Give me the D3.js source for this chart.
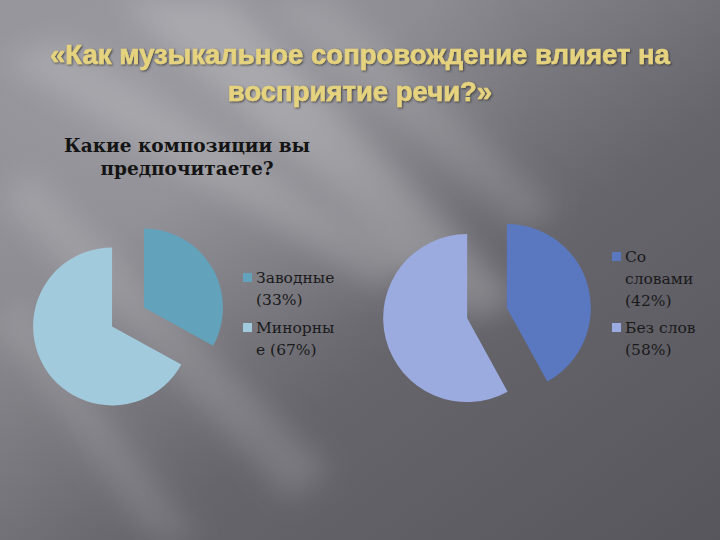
<!DOCTYPE html>
<html><head><meta charset="utf-8">
<script src="https://cdn.jsdelivr.net/npm/d3@7"></script>
<style>html,body{margin:0;padding:0;background:#5a5960;}svg{display:block;}</style>
</head><body>
<svg id="c" width="720" height="540"></svg>
<script>
const titleLines = ["«Как музыкальное сопровождение влияет на", "восприятие речи?»"];
const subtitleLines = ["Какие композиции вы", "предпочитаете?"];

const pie1Categories = ["Заводные (33%)", "Минорные (67%)"];
const pie1Values = [33, 67];
const pie1LegendLines = [["Заводные", "(33%)"], ["Минорны", "е (67%)"]];
const pie1Colors = ["#62a2ba", "#a2cadd"];

const pie2Categories = ["Со словами (42%)", "Без слов (58%)"];
const pie2Values = [42, 58];
const pie2LegendLines = [["Со", "словами", "(42%)"], ["Без слов", "(58%)"]];
const pie2Colors = ["#5a78bf", "#9babdf"];

const svg = d3.select("#c");
const defs = svg.append("defs");

// background gradient
const bg = defs.append("linearGradient").attr("id", "bg")
  .attr("x1", "0%").attr("y1", "0%").attr("x2", "100%").attr("y2", "100%");
bg.append("stop").attr("offset", "0%").attr("stop-color", "#8f8e95");
bg.append("stop").attr("offset", "30%").attr("stop-color", "#8a898f");
bg.append("stop").attr("offset", "60%").attr("stop-color", "#66656c");
bg.append("stop").attr("offset", "100%").attr("stop-color", "#57565d");
svg.append("rect").attr("width", 720).attr("height", 540).attr("fill", "url(#bg)");

const blur = defs.append("filter").attr("id", "blur").attr("x", "-50%").attr("y", "-50%").attr("width", "200%").attr("height", "200%");
blur.append("feGaussianBlur").attr("stdDeviation", 14);

// light streaks
const streaks = [
  [[120, 0], [230, 0], [520, 300], [470, 320]],
  [[0, 60], [60, 40], [420, 260], [380, 290]],
  [[0, 200], [30, 170], [330, 470], [290, 500]],
  [[260, 0], [330, 0], [560, 210], [520, 230]],
  [[0, 330], [20, 300], [200, 540], [150, 540]]
];
const streakOp = [0.22, 0.18, 0.14, 0.12, 0.12];
svg.append("g").attr("filter", "url(#blur)")
  .selectAll("polygon").data(streaks).join("polygon")
  .attr("points", d => d.map(p => p.join(",")).join(" "))
  .attr("fill", "#ffffff")
  .attr("opacity", (d, i) => streakOp[i]);

const vg = defs.append("radialGradient").attr("id", "vg").attr("cx", "20%").attr("cy", "15%").attr("r", "90%");
vg.append("stop").attr("offset", "0%").attr("stop-color", "#b5b4ba").attr("stop-opacity", 0.35);
vg.append("stop").attr("offset", "60%").attr("stop-color", "#b5b4ba").attr("stop-opacity", 0);
svg.append("rect").attr("width", 720).attr("height", 540).attr("fill", "url(#vg)");

// title
const shadow = defs.append("filter").attr("id", "sh");
shadow.append("feDropShadow").attr("dx", 1).attr("dy", 1).attr("stdDeviation", 0.8).attr("flood-color", "#2a2a2a").attr("flood-opacity", 0.8);
svg.append("g").selectAll("text").data(titleLines).join("text")
  .attr("x", 360).attr("y", (d, i) => 64 + i * 37)
  .attr("text-anchor", "middle")
  .attr("font-family", "'Liberation Sans', Arial, sans-serif")
  .attr("font-weight", "bold").attr("font-size", 27.5)
  .attr("fill", "#e6d37f")
  .attr("stroke", "#e6d37f").attr("stroke-width", 0.6)
  .attr("filter", "url(#sh)")
  .text(d => d);

// subtitle
svg.append("g").selectAll("text").data(subtitleLines).join("text")
  .attr("x", 187).attr("y", (d, i) => 152 + i * 23)
  .attr("text-anchor", "middle")
  .attr("font-family", "'DejaVu Serif', serif")
  .attr("font-weight", "bold").attr("font-size", 18.5)
  .attr("fill", "#141414")
  .text(d => d);

function drawPie(values, colors, cx, cy, r, explode) {
  const pie = d3.pie().sort(null).value(d => d);
  const arc = d3.arc().innerRadius(0).outerRadius(r);
  const arcs = pie(values);
  const g = svg.append("g").attr("transform", `translate(${cx},${cy})`);
  g.selectAll("path").data(arcs).join("path")
    .attr("d", arc)
    .attr("fill", (d, i) => colors[i])
    .attr("transform", d => {
      const a = (d.startAngle + d.endAngle) / 2;
      return `translate(${explode * Math.sin(a)},${-explode * Math.cos(a)})`;
    });
}
drawPie(pie1Values, pie1Colors, 128, 317, 79, 18.5);
drawPie(pie2Values, pie2Colors, 487, 313, 84, 20.5);

function drawLegend(lines, colors, x, yStarts) {
  const g = svg.append("g");
  lines.forEach((ls, i) => {
    const y0 = yStarts[i];
    g.append("rect").attr("x", x).attr("y", y0 - 10).attr("width", 9).attr("height", 9)
      .attr("fill", colors[i]);
    g.selectAll(null).data(ls).join("text")
      .attr("x", x + 13).attr("y", (d, j) => y0 + j * 22)
      .attr("font-family", "'DejaVu Serif', serif")
      .attr("font-size", 15.5)
      .attr("fill", "#1a1a1a")
      .text(d => d);
  });
}
drawLegend(pie1LegendLines, pie1Colors, 243, [283, 333]);
drawLegend(pie2LegendLines, pie2Colors, 612, [262, 333]);
</script>
</body></html>
